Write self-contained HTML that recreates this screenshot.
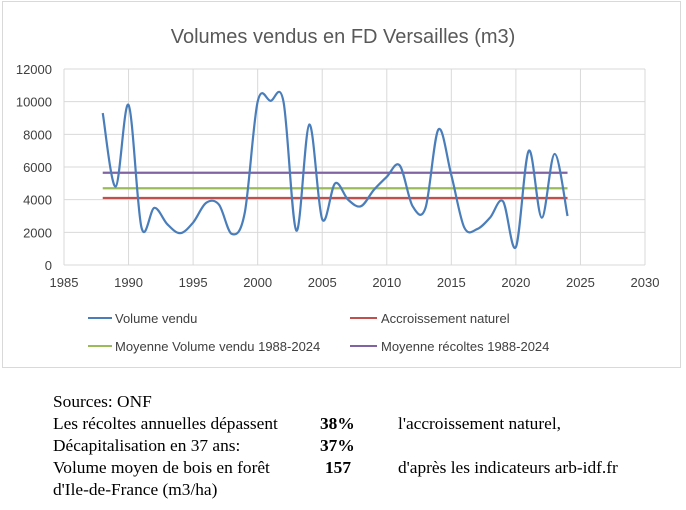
<!DOCTYPE html>
<html><head><meta charset="utf-8"><style>
body{margin:0;width:686px;height:510px;background:#fff;overflow:hidden;font-family:"Liberation Sans",sans-serif}
.t{position:absolute;font-family:"Liberation Serif",serif;font-size:17px;color:#000;white-space:nowrap;transform:scaleX(1.02);transform-origin:0 0}
</style></head><body>
<svg width="686" height="370" style="position:absolute;left:0;top:0" id="svg">
<rect x="2.5" y="1.5" width="678" height="366" fill="#fff" stroke="#d9d9d9"/>
<text x="343" y="43" text-anchor="middle" font-size="20" fill="#595959">Volumes vendus en FD Versailles (m3)</text>
<g id="grid"></g><g id="lines"></g>
<g font-size="13" fill="#404040">
<line x1="88" y1="318" x2="112" y2="318" stroke="#4a7ebb" stroke-width="2"/><text x="115" y="323">Volume vendu</text>
<line x1="350" y1="318" x2="377" y2="318" stroke="#c0504d" stroke-width="2"/><text x="381" y="323">Accroissement naturel</text>
<line x1="88" y1="346" x2="112" y2="346" stroke="#9bbb59" stroke-width="2"/><text x="115" y="351">Moyenne Volume vendu 1988-2024</text>
<line x1="350" y1="346" x2="377" y2="346" stroke="#8064a2" stroke-width="2"/><text x="381" y="351">Moyenne récoltes 1988-2024</text>
</g>
</svg>
<div class="t" style="left:53px;top:392px">Sources: ONF</div>
<div class="t" style="left:53px;top:414px">Les récoltes annuelles dépassent</div>
<div class="t" style="left:320px;top:414px;font-weight:bold">38%</div>
<div class="t" style="left:398px;top:414px">l'accroissement naturel,</div>
<div class="t" style="left:53px;top:436px">Décapitalisation en 37 ans:</div>
<div class="t" style="left:320px;top:436px;font-weight:bold">37%</div>
<div class="t" style="left:53px;top:458px">Volume moyen de bois en forêt</div>
<div class="t" style="left:325px;top:458px;font-weight:bold">157</div>
<div class="t" style="left:398px;top:458px">d'après les indicateurs arb-idf.fr</div>
<div class="t" style="left:53px;top:480px">d'Ile-de-France (m3/ha)</div>
<script>
const years=[];for(let y=1988;y<=2024;y++)years.push(y);
const volume=[9300,4800,9800,2300,3500,2500,1950,2600,3800,3700,1900,3200,10000,10050,10000,2100,8600,2800,5000,4000,3600,4600,5400,6100,3600,3500,8300,5500,2300,2200,2900,3900,1100,7000,2900,6800,3000];
const accroissement=4100, moyenneVendu=4700, moyenneRecoltes=5650;
const yTicks=[0,2000,4000,6000,8000,10000,12000];
const xTicks=[1985,1990,1995,2000,2005,2010,2015,2020,2025,2030];
const NS="http://www.w3.org/2000/svg";
const X=v=>64+(v-1985)*(645-64)/45, Y=v=>265-v*(265-69)/12000;
const g=document.getElementById('grid'),L=document.getElementById('lines');
function mk(t,a,p){const e=document.createElementNS(NS,t);for(const k in a)e.setAttribute(k,a[k]);p.appendChild(e);return e;}
yTicks.forEach(v=>{const l=mk('line',{x1:64,x2:645,y1:Y(v),y2:Y(v),stroke:'#d9d9d9'},g);

const t=mk('text',{x:52,y:Y(v)+5,'text-anchor':'end','font-size':13,fill:'#404040'},g);t.textContent=v;
});
xTicks.forEach(v=>{const l=mk('line',{x1:X(v),x2:X(v),y1:69,y2:265,stroke:'#d9d9d9'},g);

const t=mk('text',{x:X(v),y:287,'text-anchor':'middle','font-size':13,fill:'#404040'},g);t.textContent=v;
});
[[accroissement,'#c0504d','accroissement-line'],[moyenneVendu,'#9bbb59','moyenne-vendu-line'],[moyenneRecoltes,'#8064a2','moyenne-recoltes-line']].forEach(([v,c,n])=>{
const l=mk('line',{x1:X(years[0]),x2:X(years[years.length-1]),y1:Y(v),y2:Y(v),stroke:c,'stroke-width':2.2},L);
});
const P=years.map((y,i)=>[X(y),Y(volume[i])]);
let d='M'+P[0][0]+','+P[0][1];
for(let i=0;i<P.length-1;i++){const p0=P[i-1]||P[i],p1=P[i],p2=P[i+1],p3=P[i+2]||p2,k=1/6;
d+=`C${p1[0]+(p2[0]-p0[0])*k},${p1[1]+(p2[1]-p0[1])*k} ${p2[0]-(p3[0]-p1[0])*k},${p2[1]-(p3[1]-p1[1])*k} ${p2[0]},${p2[1]}`;}
const s=mk('path',{d:d,fill:'none',stroke:'#4a7ebb','stroke-width':2.2},L);

</script>
</body></html>
